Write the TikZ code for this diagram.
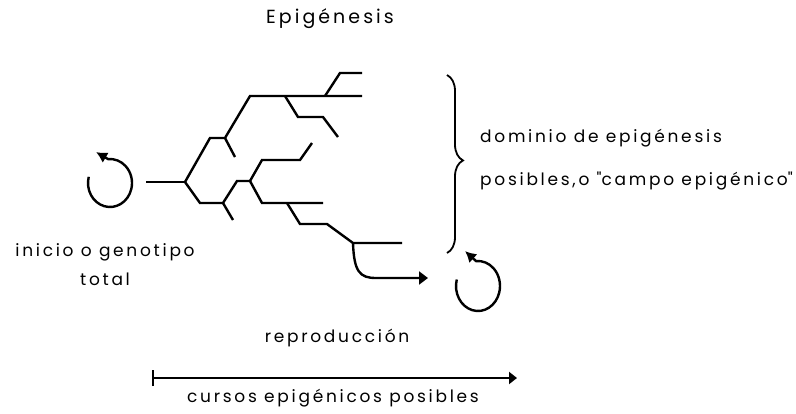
\documentclass[tikz,border=0pt]{standalone}
\usepackage{fontspec}
\setmainfont{Poppins}[LetterSpace=16]
\usetikzlibrary{positioning, calc, arrows.meta, decorations.pathreplacing}

\begin{document}
\begin{tikzpicture}[x=1pt, y=-1pt,
    branch/.style={line width=2.4pt, line join=miter},
    label_text/.style={font=\fontsize{17}{19}\selectfont, inner sep=0pt},
    title_text/.style={font=\fontsize{19}{21}\selectfont, inner sep=0pt},
    cycle_arrow/.style={line width=2.4pt, -{Latex[length=11pt, width=12pt]}},
    course_arrow/.style={line width=2pt, {Bar[width=16pt]}-{Triangle[length=8pt, width=12pt]}},
    domain_brace/.style={line width=1.8pt, decorate, decoration={brace, amplitude=16pt, aspect=0.48}}]

    \useasboundingbox (0,0) rectangle (796,413);

    % Title
    \node[title_text] (title) at (330,19) {Epigénesis};

    % Start
    \coordinate (start_c) at (110,183);
    \draw[cycle_arrow] ($(start_c)+(-165:22 and 24)$) arc[start angle=-165, end angle=-455, x radius=22, y radius=24] -- ++(-12,-7);
    \node[label_text] (start_a) at (105,252) {inicio o genotipo};
    \node[label_text, below=12pt of start_a] (start_b) {total};

    % Stem and first fork
    \coordinate (stem) at (146,182);
    \coordinate (fork0) at (185,182);
    \draw[branch] (stem) -- (fork0);

    % Upper branch
    \coordinate (fork1) at (225,138);
    \coordinate (fork2) at (250,96);
    \coordinate (fork3) at (285,96);
    \coordinate (fork4) at (325,96);
    \coordinate (top_end) at (362,96);
    \draw[branch] (fork0) -- (210,138) -- (fork1) -- (fork2) -- (top_end);
    \draw[branch] (fork1) -- (235,157);
    \draw[branch] (fork3) -- (298,117) -- (323,117) -- (338,137);
    \draw[branch] (fork4) -- (340,73) -- (362,73);

    % Lower branch
    \coordinate (fork5) at (223,203);
    \coordinate (fork6) at (250,181);
    \coordinate (fork7) at (287,203);
    \coordinate (fork8) at (353,243);
    \coordinate (low_end) at (402,243);
    \draw[branch] (fork0) -- (200,203) -- (fork5) -- (237,181) -- (fork6);
    \draw[branch] (fork5) -- (233,220);
    \draw[branch] (fork6) -- (262,160) -- (300,160) -- (312,143);
    \draw[branch] (fork6) -- (262,203) -- (323,203);
    \draw[branch] (fork7) -- (300,224) -- (327,224) -- (fork8) -- (low_end);

    % Reproduction
    \coordinate (repro_in) at (428,278);
    \draw[branch, -{Triangle[length=9pt, width=13pt]}] (fork8) .. controls (354,272) and (360,278) .. (376,278) -- (repro_in);
    \coordinate (repro_c) at (478,286);
    \draw[cycle_arrow] ($(repro_c)+(-165:22 and 25)$) arc[start angle=-165, end angle=-455, x radius=22, y radius=25] -- ++(-11,-10);
    \node[label_text] (repro) at (337,338) {reproducción};

    % Domain
    \coordinate (brace_top) at (447,75);
    \coordinate (brace_bot) at (447,253);
    \draw[domain_brace] (brace_top) -- (brace_bot);
    \node[label_text, anchor=west] (domain_a) at (480,138) {dominio de epigénesis};
    \node[label_text, anchor=west] (domain_b) at (480,181) {posibles,o \textquotedbl campo epigénico\textquotedbl};

    % Courses
    \coordinate (course_a) at (152,378);
    \coordinate (course_b) at (517,378);
    \draw[course_arrow] (course_a) -- (course_b);
    \node[label_text] (courses) at (333,398) {cursos epigénicos posibles};
\end{tikzpicture}
\end{document}
